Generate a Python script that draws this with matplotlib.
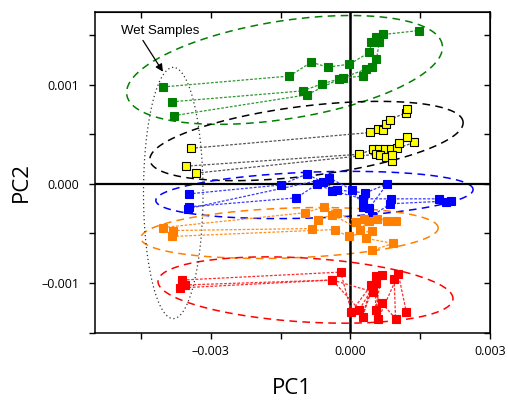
import numpy as np
import matplotlib
matplotlib.use('Agg')
import matplotlib.pyplot as plt
from matplotlib.ticker import MultipleLocator, FuncFormatter

# PCA scores: each run starts at the wet sample and follows the drying steps
green_pc1 = [[-0.00403, -0.00131, -0.00084, -0.00049, -0.00002, 0.00041, 0.00045, 0.00056, 0.00071, 0.00148],
             [-0.00384, -0.00103, -0.00062, -0.00017, 0.00028, 0.00047, 0.00056, 0.00062],
             [-0.00380, -0.00094, -0.00024, 0.00034]]
green_pc2 = [[0.00098, 0.00109, 0.00123, 0.00118, 0.00121, 0.00133, 0.00143, 0.00148, 0.00151, 0.00155],
             [0.00083, 0.00094, 0.00101, 0.00107, 0.00109, 0.00118, 0.00126, 0.00143],
             [0.00069, 0.00090, 0.00106, 0.00116]]

yellow_pc1 = [[-0.00343, 0.00043, 0.00060, 0.00071, 0.00077, 0.00084, 0.00120, 0.00122],
              [-0.00354, 0.00019, 0.00049, 0.00062, 0.00075, 0.00088, 0.00101, 0.00137],
              [-0.00331, 0.00054, 0.00064, 0.00077, 0.00090, 0.00090, 0.00105, 0.00122]]
yellow_pc2 = [[0.00036, 0.00052, 0.00056, 0.00055, 0.00061, 0.00065, 0.00072, 0.00076],
              [0.00018, 0.00030, 0.00035, 0.00035, 0.00035, 0.00035, 0.00036, 0.00042],
              [0.00011, 0.00030, 0.00029, 0.00027, 0.00023, 0.00029, 0.00041, 0.00047]]

blue_pc1 = [[-0.00348, -0.00150, -0.00094, -0.00060, -0.00028, 0.00032, 0.00079, 0.00041],
            [-0.00346, -0.00116, -0.00071, -0.00039, 0.00028, 0.00088, 0.00191, 0.00206],
            [-0.00350, -0.00045, 0.00004, 0.00028, 0.00047, 0.00086, 0.00217]]
blue_pc2 = [[-0.00010, -0.00001, 0.00010, 0.00002, -0.00006, -0.00009, 0.00000, -0.00024],
            [-0.00023, -0.00014, 0.00000, -0.00007, -0.00015, -0.00015, -0.00015, -0.00018],
            [-0.00025, 0.00006, -0.00006, -0.00023, -0.00032, -0.00020, -0.00017]]

orange_pc1 = [[-0.00403, -0.00097, -0.00056, -0.00028, 0.00011, 0.00030, 0.00058, 0.00097],
              [-0.00382, -0.00082, -0.00069, -0.00039, 0.00021, 0.00039, 0.00079],
              [-0.00384, -0.00034, -0.00004, 0.00047, 0.00034, 0.00092, 0.00047]]
orange_pc2 = [[-0.00044, -0.00029, -0.00023, -0.00029, -0.00038, -0.00035, -0.00035, -0.00037],
              [-0.00047, -0.00045, -0.00036, -0.00031, -0.00046, -0.00037, -0.00037],
              [-0.00053, -0.00046, -0.00053, -0.00047, -0.00055, -0.00060, -0.00067]]

red_pc1 = [[-0.00361, -0.00021, 0.00002, 0.00045, 0.00026, 0.00056, 0.00060, 0.00103, 0.00120],
           [-0.00356, -0.00039, 0.00019, 0.00054, 0.00054, 0.00067],
           [-0.00367, -0.00039, 0.00049, 0.00067, 0.00097, 0.00094]]
red_pc2 = [[-0.00097, -0.00089, -0.00129, -0.00102, -0.00134, -0.00093, -0.00136, -0.00091, -0.00129],
           [-0.00102, -0.00097, -0.00127, -0.00100, -0.00127, -0.00092],
           [-0.00105, -0.00097, -0.00109, -0.00120, -0.00136, -0.00096]]

# group ellipses: centre x, centre y, semi axes (PC1 units), tilt in degrees
ell_green = (-0.001416, 0.001152, 0.003433, 0.001052, 9)
ell_black = (-0.000944, 0.000434, 0.003391, 0.000751, 7)
ell_blue = (-0.000773, -0.000111, 0.003412, 0.000494, 2)
ell_orange = (-0.001309, -0.000495, 0.003197, 0.000536, 2)
ell_red = (-0.000966, -0.001071, 0.003176, 0.000687, -3.5)
ell_wet = (-0.003808, -0.000091, 0.002700, 0.000640, 90)

xmin, xmax = -0.00549, 0.003
ymin, ymax = -0.001505, 0.001737

fig = plt.figure(figsize=(5.08, 4.0), dpi=100)
ax = fig.add_axes([95/508, 67/400, 395/508, 321/400])
ax.set_xlim(xmin, xmax)
ax.set_ylim(ymin, ymax)

# y units -> x units on screen, so the tilted ellipses keep their shape
ratio = (321/(ymax-ymin)) / (395/(xmax-xmin))

def draw_ellipse(e, **kw):
    cx, cy, a, b, ang = e
    t = np.linspace(0, 2*np.pi, 300)
    th = np.radians(ang)
    u = a*np.cos(t)*np.cos(th) - b*np.sin(t)*np.sin(th)
    v = a*np.cos(t)*np.sin(th) + b*np.sin(t)*np.cos(th)
    ax.plot(cx + u, cy + v/ratio, **kw)

ax.axhline(0, color='black', lw=1.6, zorder=2.5)
ax.axvline(0, color='black', lw=1.8, zorder=2.5)

dash = (0, (5, 3.5))
draw_ellipse(ell_green, color='#008000', lw=1.1, ls=dash, zorder=2)
draw_ellipse(ell_black, color='black', lw=1.1, ls=dash, zorder=2)
draw_ellipse(ell_blue, color='#0000FF', lw=1.1, ls=dash, zorder=2)
draw_ellipse(ell_orange, color='#FF8000', lw=1.1, ls=dash, zorder=2)
draw_ellipse(ell_red, color='#FF0000', lw=1.1, ls=dash, zorder=2)
draw_ellipse(ell_wet, color='#333333', lw=0.9, ls=(0, (1, 2.2)), zorder=2)

groups = [
    (green_pc1, green_pc2, '#008000', '#008000', '#2e9a2e'),
    (yellow_pc1, yellow_pc2, '#FFFF00', 'black', '#555555'),
    (blue_pc1, blue_pc2, '#0000FF', '#0000FF', '#3a3aff'),
    (orange_pc1, orange_pc2, '#FF8000', '#FF8000', '#ff9020'),
    (red_pc1, red_pc2, '#FF0000', '#FF0000', '#ff2a2a'),
]
for xs, ys, face, edge, lcol in groups:
    for x, y in zip(xs, ys):
        ax.plot(x, y, color=lcol, lw=0.9, ls=(0, (2.2, 1.3)), zorder=3)
        ax.plot(x, y, ls='none', marker='s', ms=5.6, mfc=face, mec=edge,
                mew=0.8, zorder=4)

# wet sample label with arrow
ax.text(-0.00408, 0.00155, 'Wet Samples', family='Liberation Sans', fontsize=9.5,
        ha='center', va='center')
ax.annotate('', xy=(-0.00403, 0.001134), xytext=(-0.00446, 0.00145),
            arrowprops=dict(arrowstyle='-|>', color='black', lw=0.9,
                            mutation_scale=11, shrinkA=0, shrinkB=0))

fmt = FuncFormatter(lambda v, p: ('%.3f' % (round(v, 6) + 0.0)).replace('-', '\u2013'))
ax.xaxis.set_major_locator(MultipleLocator(0.003))
ax.xaxis.set_minor_locator(MultipleLocator(0.0015))
ax.yaxis.set_major_locator(MultipleLocator(0.001))
ax.yaxis.set_minor_locator(MultipleLocator(0.0005))
ax.xaxis.set_major_formatter(fmt)
ax.yaxis.set_major_formatter(fmt)
ax.tick_params(which='both', direction='out', length=4.5, width=1, labelsize=9, pad=4)
ax.tick_params(axis='y', pad=7)
for lab in ax.get_xticklabels() + ax.get_yticklabels():
    lab.set_family('Open Sans')
for sp in ax.spines.values():
    sp.set_linewidth(1.1)

# inward ticks on the top and right frame
top = ax.secondary_xaxis('top')
top.xaxis.set_major_locator(MultipleLocator(0.003))
top.xaxis.set_minor_locator(MultipleLocator(0.0015))
top.tick_params(which='both', direction='in', length=4, width=1, labeltop=False)
right = ax.secondary_yaxis('right')
right.yaxis.set_major_locator(MultipleLocator(0.001))
right.yaxis.set_minor_locator(MultipleLocator(0.0005))
right.tick_params(which='both', direction='in', length=4, width=1, labelright=False)

fig.text(292/508, 1 - 394/400, 'PC1', family='Open Sans', fontsize=16,
         ha='center', va='baseline')
fig.text(27/508, 1 - 182/400, 'PC2', family='Open Sans', fontsize=16,
         rotation=90, rotation_mode='anchor', ha='center', va='baseline')

fig.savefig('out.png', dpi=100)
